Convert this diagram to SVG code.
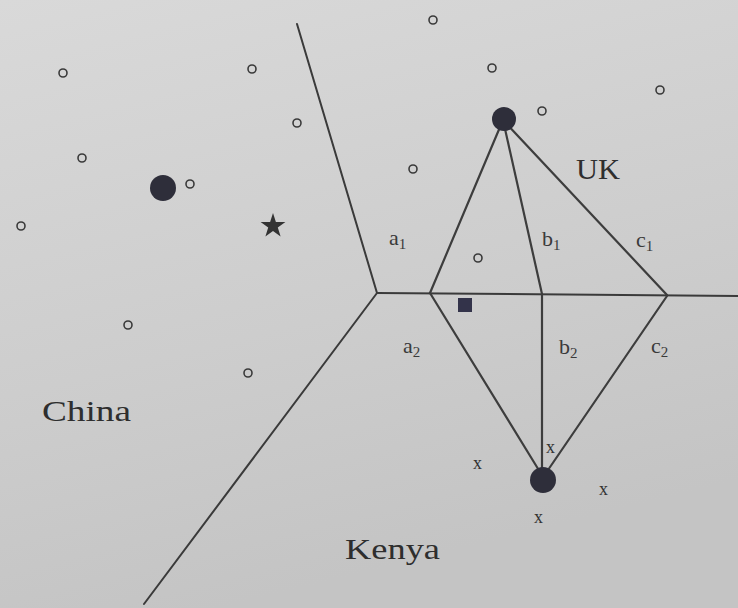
<svg xmlns="http://www.w3.org/2000/svg" width="738" height="608" viewBox="0 0 738 608">
<defs>
<linearGradient id="bg" x1="0" y1="0" x2="0.3" y2="1">
<stop offset="0" stop-color="#d9d9d9"/>
<stop offset="0.6" stop-color="#cdcdcd"/>
<stop offset="1" stop-color="#c4c4c4"/>
</linearGradient>
</defs>
<style>
.edge{stroke:#3a3a3a;stroke-width:2;fill:none;stroke-linecap:round}
.tri{stroke:#3d3d3d;stroke-width:2.2;fill:none;stroke-linecap:round}
.pt{fill:none;stroke:#3a3a3a;stroke-width:1.6}
.site{fill:#2e2e3a}
.lbl{font-family:"Liberation Serif","DejaVu Serif",serif;fill:#2e2e2e}
.sub{font-family:"Liberation Serif","DejaVu Serif",serif;fill:#3a3a3a;font-size:22px}
.xm{font-family:"Liberation Serif","DejaVu Serif",serif;fill:#333;font-size:18px}
</style>
<rect x="0" y="0" width="738" height="608" fill="url(#bg)"/>
<g id="voronoi-edges">
<line class="edge" x1="297" y1="24" x2="377" y2="293"/>
<line class="edge" x1="377" y1="293" x2="738" y2="296"/>
<line class="edge" x1="377" y1="293" x2="144" y2="604"/>
</g>
<g id="connectors">
<line class="tri" x1="503" y1="120" x2="430" y2="293"/>
<line class="tri" x1="503" y1="120" x2="542" y2="294"/>
<line class="tri" x1="503" y1="120" x2="667" y2="295"/>
<line class="tri" x1="430" y1="293" x2="540" y2="472"/>
<line class="tri" x1="542" y1="294" x2="542" y2="470"/>
<line class="tri" x1="667" y1="296" x2="548" y2="470"/>
</g>
<g id="sites">
<circle id="site-uk" class="site" cx="504" cy="119" r="12"/>
<circle id="site-china" class="site" cx="163" cy="188" r="13"/>
<circle id="site-kenya" class="site" cx="543" cy="480" r="13"/>
</g>
<g id="points">
<circle class="pt" cx="63" cy="73" r="4"/>
<circle class="pt" cx="252" cy="69" r="4"/>
<circle class="pt" cx="297" cy="123" r="4"/>
<circle class="pt" cx="82" cy="158" r="4"/>
<circle class="pt" cx="190" cy="184" r="4"/>
<circle class="pt" cx="21" cy="226" r="4"/>
<circle class="pt" cx="433" cy="20" r="4"/>
<circle class="pt" cx="492" cy="68" r="4"/>
<circle class="pt" cx="660" cy="90" r="4"/>
<circle class="pt" cx="542" cy="111" r="4"/>
<circle class="pt" cx="413" cy="169" r="4"/>
<circle class="pt" cx="478" cy="258" r="4"/>
<circle class="pt" cx="128" cy="325" r="4"/>
<circle class="pt" cx="248" cy="373" r="4"/>
</g>
<g id="star">
<path fill="#333" d="M273,213 L275.9,222 L285.4,222 L277.8,227.5 L280.6,236.5 L273,231 L265.4,236.5 L268.2,227.5 L260.6,222 L270.1,222 Z"/>
</g>
<g id="square">
<rect x="458" y="298" width="14" height="14" fill="#33334a"/>
</g>
<g id="x-points">
<text class="xm" x="473" y="469">x</text>
<text class="xm" x="546" y="453">x</text>
<text class="xm" x="599" y="495">x</text>
<text class="xm" x="534" y="523">x</text>
</g>
<g id="labels">
<text class="lbl" x="576" y="179" font-size="30" textLength="44" lengthAdjust="spacingAndGlyphs">UK</text>
<text class="lbl" x="42" y="421" font-size="30" textLength="89" lengthAdjust="spacingAndGlyphs">China</text>
<text class="lbl" x="345" y="559" font-size="30" textLength="95" lengthAdjust="spacingAndGlyphs">Kenya</text>
<text class="sub" x="389" y="245">a<tspan font-size="15" dy="4">1</tspan></text>
<text class="sub" x="542" y="246">b<tspan font-size="15" dy="4">1</tspan></text>
<text class="sub" x="636" y="247">c<tspan font-size="15" dy="4">1</tspan></text>
<text class="sub" x="403" y="353">a<tspan font-size="15" dy="4">2</tspan></text>
<text class="sub" x="559" y="354">b<tspan font-size="15" dy="4">2</tspan></text>
<text class="sub" x="651" y="353">c<tspan font-size="15" dy="4">2</tspan></text>
</g>
</svg>
